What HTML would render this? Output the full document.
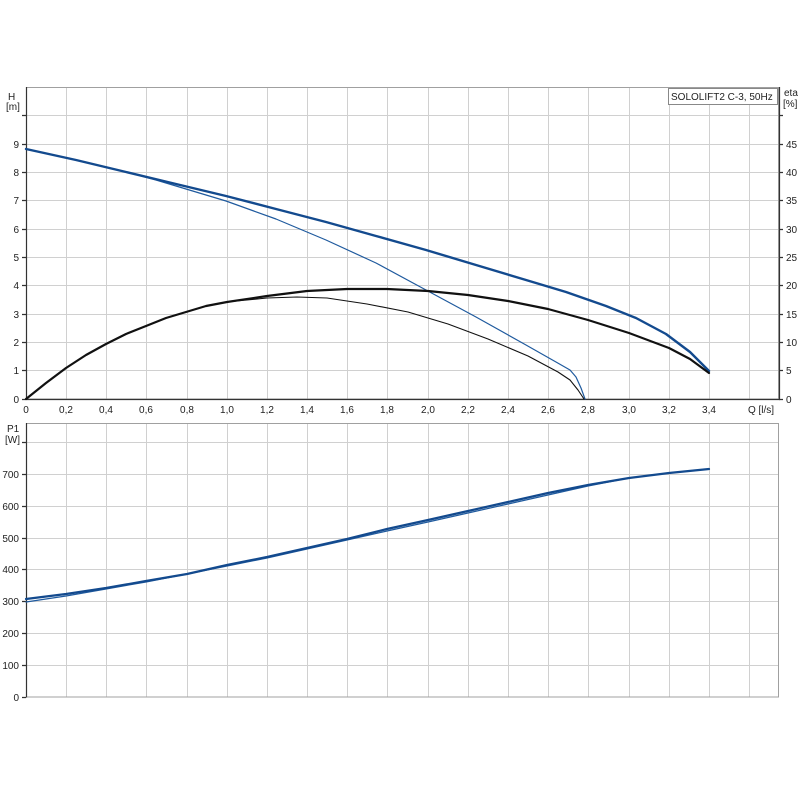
<!DOCTYPE html>
<html><head><meta charset="utf-8"><style>
body{margin:0;background:#fff;}
svg{display:block;font-family:"Liberation Sans",Arial,sans-serif;}
</style></head><body>
<svg width="800" height="800" viewBox="0 0 800 800" xmlns="http://www.w3.org/2000/svg">
<rect width="800" height="800" fill="#fff"/>
<g stroke="#d0d0d0" stroke-width="1" fill="none">
<path d="M66.5 87V399M106.5 87V399M146.5 87V399M187.5 87V399M227.5 87V399M267.5 87V399M307.5 87V399M347.5 87V399M387.5 87V399M428.5 87V399M468.5 87V399M508.5 87V399M548.5 87V399M588.5 87V399M629.5 87V399M669.5 87V399M709.5 87V399M749.5 87V399"/>
<path d="M26 115.5H779M26 144.5H779M26 172.5H779M26 200.5H779M26 229.5H779M26 257.5H779M26 285.5H779M26 314.5H779M26 342.5H779M26 370.5H779"/>
<path d="M66.5 423V697M106.5 423V697M146.5 423V697M187.5 423V697M227.5 423V697M267.5 423V697M307.5 423V697M347.5 423V697M387.5 423V697M428.5 423V697M468.5 423V697M508.5 423V697M548.5 423V697M588.5 423V697M629.5 423V697M669.5 423V697M709.5 423V697M749.5 423V697"/>
<path d="M26 442.5H779M26 474.5H779M26 506.5H779M26 538.5H779M26 569.5H779M26 601.5H779M26 633.5H779M26 665.5H779"/>
</g>
<g stroke="#a0a0a0" fill="none" stroke-width="1">
<rect x="26.5" y="87.5" width="752" height="311.5"/>
<rect x="26.5" y="423.5" width="752" height="273.5"/>
</g>
<g stroke="#333" stroke-width="1.2" fill="none">
<path d="M26.5 87V399.5H779.5V87"/>
<path d="M26.5 423V697.5"/>
<path d="M22 399.5h4M22 370.5h4M22 342.5h4M22 314.5h4M22 285.5h4M22 257.5h4M22 229.5h4M22 200.5h4M22 172.5h4M22 144.5h4M22 115.5h4"/>
<path d="M779 399.5h4M779 370.5h4M779 342.5h4M779 314.5h4M779 285.5h4M779 257.5h4M779 229.5h4M779 200.5h4M779 172.5h4M779 144.5h4M779 115.5h4"/>
<path d="M22 697.5h4M22 665.5h4M22 633.5h4M22 601.5h4M22 569.5h4M22 538.5h4M22 506.5h4M22 474.5h4M22 442.5h4"/>
</g>
<g font-size="10" fill="#222">
<text x="8" y="100">H</text><text x="6" y="110">[m]</text>
<g text-anchor="end">
<text x="19" y="403">0</text><text x="19" y="374">1</text><text x="19" y="346">2</text><text x="19" y="318">3</text><text x="19" y="289">4</text><text x="19" y="261">5</text><text x="19" y="233">6</text><text x="19" y="204">7</text><text x="19" y="176">8</text><text x="19" y="148">9</text>
</g>
<text x="784" y="96">eta</text><text x="783" y="107">[%]</text>
<text x="786" y="403">0</text><text x="786" y="374">5</text><text x="786" y="346">10</text><text x="786" y="318">15</text><text x="786" y="289">20</text><text x="786" y="261">25</text><text x="786" y="233">30</text><text x="786" y="204">35</text><text x="786" y="176">40</text><text x="786" y="148">45</text>
<g text-anchor="middle">
<text x="26" y="413">0</text><text x="66" y="413">0,2</text><text x="106" y="413">0,4</text><text x="146" y="413">0,6</text><text x="187" y="413">0,8</text><text x="227" y="413">1,0</text><text x="267" y="413">1,2</text><text x="307" y="413">1,4</text><text x="347" y="413">1,6</text><text x="387" y="413">1,8</text><text x="428" y="413">2,0</text><text x="468" y="413">2,2</text><text x="508" y="413">2,4</text><text x="548" y="413">2,6</text><text x="588" y="413">2,8</text><text x="629" y="413">3,0</text><text x="669" y="413">3,2</text><text x="709" y="413">3,4</text><text x="761" y="413">Q [l/s]</text>
</g>
<text x="7" y="432">P1</text><text x="5" y="443">[W]</text>
<g text-anchor="end">
<text x="19" y="701">0</text><text x="19" y="669">100</text><text x="19" y="637">200</text><text x="19" y="605">300</text><text x="19" y="573">400</text><text x="19" y="542">500</text><text x="19" y="510">600</text><text x="19" y="478">700</text>
</g>
</g>
<rect x="668.5" y="88.5" width="109" height="16" fill="#fff" stroke="#888"/>
<text x="671" y="100" font-size="10" fill="#222">SOLOLIFT2 C-3, 50Hz</text>
<g fill="none" stroke-linejoin="round" stroke-linecap="round">
<polyline stroke="#1f5a9e" stroke-width="1.2" points="26,149 76,160 126,172 156,180 186,189 226,201 276,219 326,240 376,263 426,290 476,317 526,345 556,362 570,370 576,377 581,388 585,399"/>
<polyline stroke="#134a8e" stroke-width="2.4" points="26,149 76,160 126,172 176,184 226,196 276,209 326,222 376,236 426,250 476,265 526,280 566,292 606,306 636,318 666,334 690,352 709,371"/>
<polyline stroke="#111" stroke-width="1.1" points="26,399 46,383 66,368 86,355 106,344 126,334 146,326 166,318 186,312 206,306 226,302 267,298 297,297 327,298 367,304 408,312 448,324 488,339 528,356 558,372 570,380 578,390 584,399"/>
<polyline stroke="#111" stroke-width="2.2" points="26,399 46,383 66,368 86,355 106,344 126,334 146,326 166,318 186,312 206,306 227,302 267,296 307,291 347,289 387,289 428,291 468,295 508,301 548,309 588,320 629,333 669,348 690,359 709,373"/>
<polyline stroke="#1f5a9e" stroke-width="1.2" points="26,602 66,596 106,589 146,582 187,574 227,566 267,558 307,549 347,540 387,531 428,522 468,513 508,504 548,495 588,486 629,478 669,473 709,469"/>
<polyline stroke="#134a8e" stroke-width="2.2" points="26,599 66,594 106,588 146,581 187,574 227,565 267,557 307,548 347,539 387,529 428,520 468,511 508,502 548,493 588,485 629,478 669,473 709,469"/>
</g>
</svg>
</body></html>
